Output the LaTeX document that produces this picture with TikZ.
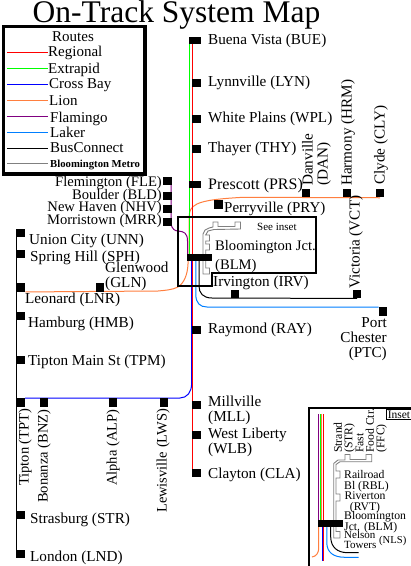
\documentclass[tikz,border=0pt]{standalone}
\usepackage{fontspec}
\setmainfont{Liberation Serif}
\usetikzlibrary{backgrounds}
\definecolor{cOrange}{HTML}{FF7F3F}
\definecolor{cPurple}{HTML}{800080}
\definecolor{cSky}{HTML}{007FFF}
\definecolor{cGray}{HTML}{808080}
\tikzset{
  stn/.style={fill=black,inner sep=0pt,minimum width=8.5pt,minimum height=8.5pt},
  wide/.style={stn,minimum width=12pt,minimum height=7.5pt},
  lbl/.style={inner sep=0pt,anchor=west,align=left,yshift=-1.2pt,font=\fontsize{15.2}{15}\selectfont},
  lblr/.style={lbl,anchor=east,align=right},
  up/.style={inner sep=0pt,rotate=90,anchor=south west,align=left,font=\fontsize{15.2}{15}\selectfont},
  upb/.style={up,font=\fontsize{14.5}{15}\selectfont},
  small/.style={inner sep=0pt,anchor=west,align=left,yshift=-0.6pt,font=\fontsize{11.7}{10.5}\selectfont},
  smallup/.style={inner sep=0pt,rotate=90,anchor=south west,align=left,font=\fontsize{11.7}{10.5}\selectfont},
  leg/.style={inner sep=0pt,anchor=base west,font=\fontsize{15}{15}\selectfont},
  route/.style={line width=1pt},
  frame/.style={draw=black,line width=2pt},
  metro/.style={draw=cGray,line width=0.9pt,line join=miter},
}
\begin{document}
\begin{tikzpicture}[x=1pt,y=-1pt]
\useasboundingbox (0,0) rectangle (411,566);

% title
\node[inner sep=0pt,anchor=base,font=\fontsize{31.5}{32}\selectfont] (title) at (176.5,22.5) {On-Track System Map};

% free ends of routes
\coordinate (redT) at (192.6,37); \coordinate (redB) at (192.6,477);
\coordinate (grnT) at (189.8,37); \coordinate (grnB) at (189.8,258);
\coordinate (bluT) at (191.6,258);
\coordinate (bluL) at (25,398);
\coordinate (skyT) at (195.8,258);
\coordinate (blkT) at (199,258);
\coordinate (purT) at (171,181); \coordinate (purB) at (187.5,258);
\coordinate (oraT) at (189.2,258); \coordinate (oraB) at (188,258);
\coordinate (busT) at (16.5,229); \coordinate (busB) at (16.5,558);

% stations
\node[wide] (BUE) at (195,40.5) {};
\node[stn] (LYN) at (196.5,83) {};
\node[stn] (WPL) at (196.5,119) {};
\node[stn] (THY) at (196.5,149) {};
\node[wide] (PRS) at (195,184.5) {};
\node[stn] (PRY) at (218.5,204.5) {};
\node[stn] (DAN) at (306,193) {};
\node[stn] (HRM) at (347,193) {};
\node[stn] (CLY) at (380,193) {};
\node[stn] (FLE) at (167.5,181) {};
\node[stn] (BLD) at (167.5,196) {};
\node[stn] (NHV) at (167.5,209) {};
\node[stn] (MRR) at (167.5,222) {};
\node[stn] (UNN) at (21,233) {};
\node[stn] (SPH) at (21,254) {};
\node[stn] (LNR) at (21,287.5) {};
\node[stn] (GLN) at (100,287.5) {};
\node[stn] (HMB) at (21,316) {};
\node[stn] (TPM) at (21,360) {};
\node[stn] (TPT) at (21,402.5) {};
\node[stn] (BNZ) at (44,402.5) {};
\node[stn] (ALP) at (113,402.5) {};
\node[stn] (LWS) at (164,402.5) {};
\node[stn] (STR) at (21,515) {};
\node[stn] (LND) at (21,554) {};
\node[stn] (RAY) at (196.5,330) {};
\node[stn] (MLL) at (196.5,405) {};
\node[stn] (WLB) at (196.5,435) {};
\node[stn] (CLA) at (196.5,473) {};
\node[stn] (IRV) at (235,294) {};
\node[stn] (VCT) at (357,294) {};
\node[stn] (PTC) at (383,311.5) {};

% routes
\begin{scope}[on background layer]
\fill[white] (0,0) rectangle (411,566);
\draw[route,cOrange] (CLY.south) ++(0,0.3) -- (243,197.3) .. controls (222,198.5) and (205,200) .. (197,204) .. controls (191,207) and (189.2,211) .. (189.2,216) -- (oraT);
\draw[route,cOrange] (oraB) -- (188,264) .. controls (187.5,275) and (184,283) .. (178,287) .. controls (172,290) and (165,290.3) .. (158,291) -- (LNR.south east);
\draw[route,cPurple] (purT) -- (171,224) .. controls (172,229) and (175,231) .. (178,231) .. controls (184,231.5) and (187.5,233) .. (187.5,241) -- (purB);
\draw[route,green] (grnT) -- (grnB);
\draw[route,blue] (bluT) -- (191.6,384) .. controls (191.6,392) and (187,398) .. (180,398) -- (bluL);
\draw[route,red] (redT) -- (redB);
\draw[route,cSky] (skyT) -- (195.8,295) .. controls (196,303) and (200,307) .. (207,307) -- (PTC.north west);
\draw[route,black] (blkT) -- (199,286) .. controls (199,293) and (203,298) .. (212,298) -- (VCT.south);
\draw[route,black] (busT) -- (busB);
\end{scope}

% metro outline on the main map
\draw[metro] (203,274) -- (203,234) -- (205,230) -- (209,228) -- (213,227) -- (213,222) -- (218,222) -- (218,226.5) -- (235,226.5) -- (235,222) -- (240.5,222) -- (240.5,229) -- (214,229.5) -- (208,231) -- (205.7,235) -- (209.5,235) -- (209.5,241) -- (205.7,241) -- (205.7,244) -- (209.5,244) -- (209.5,250) -- (205.7,250) -- (205.7,268) -- (209.5,268) -- (209.5,274) -- cycle;

\node[fill=black,inner sep=0pt,minimum width=25pt,minimum height=7.5pt] (BLM) at (199.5,257.5) {};

% inset frame of the junction
\draw[frame,line join=miter] (178,217) -- (316,217) -- (316,273) -- (212,273) -- (212,286) -- (178,286) -- cycle;

% labels, main map
\node[lbl] (tBUE) at (208,40) {Buena Vista (BUE)};
\node[lbl] (tLYN) at (208,82) {Lynnville (LYN)};
\node[lbl] (tWPL) at (208,118) {White Plains (WPL)};
\node[lbl] (tTHY) at (208,148) {Thayer (THY)};
\node[lbl,font=\fontsize{16}{15}\selectfont] (tPRS) at (208,184) {Prescott (PRS)};
\node[lbl,font=\fontsize{15}{15}\selectfont] (tPRY) at (224,208) {Perryville (PRY)};
\node[up] (tDAN) at (331,186) {Danville\\(DAN)};
\node[up] (tHRM) at (355,186) {Harmony (HRM)};
\node[up] (tCLY) at (388,185) {Clyde (CLY)};
\node[up] (tVCT) at (363,289) {Victoria (VCT)};
\node[lblr,font=\fontsize{14.6}{15}\selectfont] (tFLE) at (162,182) {Flemington (FLE)};
\node[lblr,font=\fontsize{14.6}{15}\selectfont] (tBLD) at (162,195) {Boulder (BLD)};
\node[lblr,font=\fontsize{14.6}{15}\selectfont] (tNHV) at (162,207) {New Haven (NHV)};
\node[lblr,font=\fontsize{14.6}{15}\selectfont] (tMRR) at (162,220) {Morristown (MRR)};
\node[lbl] (tUNN) at (29,240) {Union City (UNN)};
\node[lbl] (tSPH) at (30,257) {Spring Hill (SPH)};
\node[lbl] (tGLN) at (105,275) {Glenwood\\(GLN)};
\node[lbl] (tLNR) at (25,299) {Leonard (LNR)};
\node[lbl] (tHMB) at (28,323) {Hamburg (HMB)};
\node[lbl] (tTPM) at (28,361) {Tipton Main St (TPM)};
\node[upb] (tTPT) at (32,486) {Tipton (TPT)};
\node[upb] (tBNZ) at (51,503) {Bonanza (BNZ)};
\node[upb] (tALP) at (120,486) {Alpha (ALP)};
\node[upb] (tLWS) at (170,513) {Lewisville (LWS)};
\node[lbl] (tSTR) at (30,519) {Strasburg (STR)};
\node[lbl] (tLND) at (30,557) {London (LND)};
\node[lbl] (tRAY) at (208,329) {Raymond (RAY)};
\node[lbl] (tMLL) at (208,409.5) {Millville\\(MLL)};
\node[lbl] (tWLB) at (208,441.5) {West Liberty\\(WLB)};
\node[lbl] (tCLA) at (208,474) {Clayton (CLA)};
\node[lbl] (tIRV) at (213,282) {Irvington (IRV)};
\node[lblr] (tPTC) at (387,338) {Port\\Chester\\(PTC)};
\node[lbl,font=\fontsize{14.6}{19}\selectfont] (tBLM) at (215,255.5) {Bloomington Jct.\\(BLM)};
\node[small,font=\fontsize{11}{11}\selectfont] (tSEE) at (257,226) {See inset};

% legend
\draw[black,line width=3.5pt,fill=white,line join=miter] (3.5,26.5) rectangle (145,174);
\node[inner sep=0pt,anchor=base,font=\fontsize{15}{15}\selectfont] (tROU) at (73,41.7) {Routes};
\node[leg] (gREG) at (48,56.7) {Regional};
\node[leg] (gEXT) at (48,73) {Extrapid};
\node[leg] (gCRO) at (49,88.5) {Cross Bay};
\node[leg] (gLIO) at (49,105) {Lion};
\node[leg] (gFLA) at (50,122) {Flamingo};
\node[leg] (gLAK) at (50,137.7) {Laker};
\node[leg] (gBUS) at (50,152.7) {BusConnect};
\node[leg,font=\fontsize{10.7}{11}\selectfont\bfseries] (gMET) at (50,167) {Bloomington Metro};
\coordinate (k1) at (7,52); \coordinate (k2) at (7,68.5); \coordinate (k3) at (7,84);
\coordinate (k4) at (7,100); \coordinate (k5) at (7,116.5); \coordinate (k6) at (7,132.5);
\coordinate (k7) at (7,148); \coordinate (k8) at (7,164);
\draw[route,red] (k1) -- (k1 -| gREG.west);
\draw[route,green] (k2) -- (k2 -| gEXT.west);
\draw[route,blue] (k3) -- (k3 -| gEXT.west);
\draw[route,cOrange] (k4) -- (k4 -| gEXT.west);
\draw[route,cPurple] (k5) -- (k5 -| gEXT.west);
\draw[route,cSky] (k6) -- (k6 -| gEXT.west);
\draw[route,black] (k7) -- (k7 -| gEXT.west);
\draw[cGray,line width=0.8pt,double=white,double distance=0.9pt] (k8) -- (k8 -| gEXT.west);

% inset panel
\coordinate (iTL) at (309,408); \coordinate (iBL) at (309,566); \coordinate (iTR) at (411,408);
\draw[black,line width=2pt,line join=miter] (iBL) -- (iTL) -- (iTR);
\node[draw=black,line width=0.8pt,fill=white,inner sep=0pt,minimum width=25pt,minimum height=10pt,font=\fontsize{11.5}{11.5}\selectfont] (iNS) at (399,414.5) {Inset};

\coordinate (pT) at (318.7,414); \coordinate (pB) at (318.7,522);
\coordinate (gT) at (320.2,414); \coordinate (gB) at (320.2,522);
\coordinate (oT) at (321.7,414); \coordinate (oB) at (318.7,522);
\coordinate (rT) at (323.5,414); \coordinate (rB) at (323.5,561);
\coordinate (bT) at (322.5,522); \coordinate (bB) at (322.5,561);
\coordinate (sE) at (358.5,557.3); \coordinate (kE) at (358.5,552.7);
\draw[route,cPurple] (pT) -- (pB);
\draw[route,green] (gT) -- (gB);
\draw[route,cOrange] (oT) -- (321.7,522);
\draw[route,cOrange] (oB) -- (318.7,549) .. controls (318.5,553) and (316,556.5) .. (312,557);
\draw[route,blue] (bT) -- (bB);
\draw[route,red] (rT) -- (rB);
\draw[route,cSky] (326.8,522) -- (326.8,543) .. controls (327,552) and (333,557.3) .. (345,557.3) -- (sE);
\draw[route,black] (330.7,522) -- (330.7,537) .. controls (331,547) and (337,552.7) .. (348,552.7) -- (kE);

\draw[metro] (333.7,538) -- (333.7,463.5) -- (338,460) -- (345,460) -- (345,454.5) -- (350,454.5) -- (350,459.5) -- (366,459.5) -- (366,454.5) -- (371.7,454.5) -- (371.7,461.7) -- (340,461.7) -- (336,464.5) -- (336,471) -- (340,471) -- (340,478) -- (336,478) -- (336,494) -- (340,494) -- (340,501) -- (336,501) -- (336,531.5) -- (340,531.5) -- (340,538) -- cycle;

\node[fill=black,inner sep=0pt,minimum width=25pt,minimum height=7.5pt] (iBLM) at (330.5,523.5) {};

\node[smallup] (iSTR) at (355,453) {Strand\\(STR)};
\node[smallup] (iFFC) at (387,453) {Fast\\Food Ctr.\\(FFC)};
\node[small] (iRBL) at (344,480.5) {Railroad\\Bl (RBL)};
\node[small,align=center,anchor=center] (iRVT) at (365,502) {Riverton\\(RVT)};
\node[small] (iBLJ) at (344,521.5) {Bloomington\\Jct. (BLM)};
\node[small,font=\fontsize{11}{10}\selectfont] (iNEL) at (344,539.5) {Nelson\\Towers};
\node[small,font=\fontsize{10.6}{10.6}\selectfont] (iNLS) at (379,540) {(NLS)};
\end{tikzpicture}
\end{document}
